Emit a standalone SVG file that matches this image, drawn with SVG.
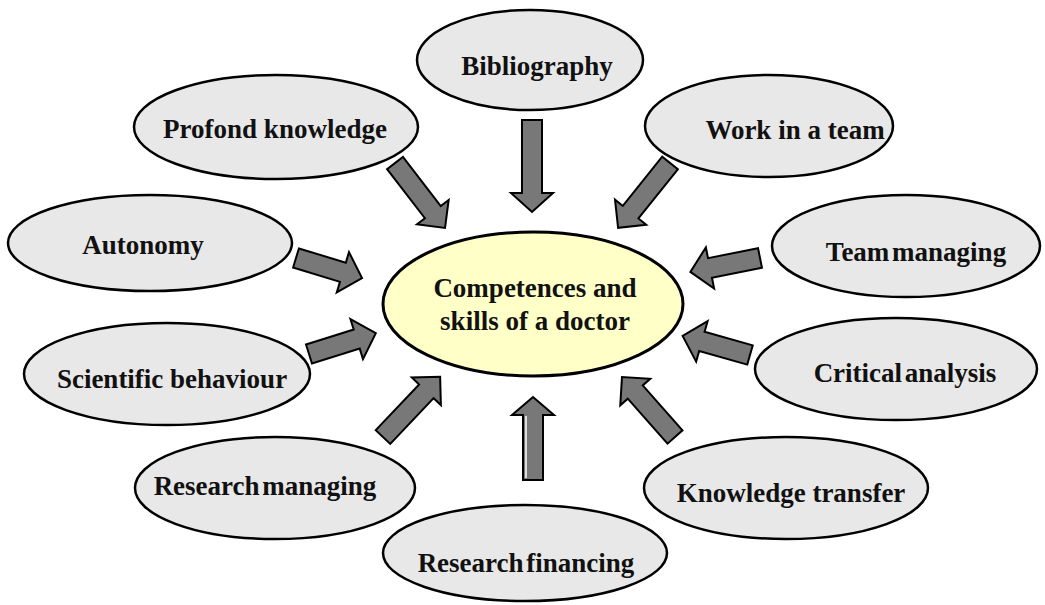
<svg xmlns="http://www.w3.org/2000/svg" width="1045" height="605" viewBox="0 0 1045 605">
<style>
.n{fill:#e8e8e8;stroke:#000;stroke-width:2.5}
.c{fill:#ffffc8;stroke:#000;stroke-width:3}
.t{font-family:"Liberation Serif","Times New Roman",serif;font-weight:bold;font-size:27px;fill:#111;text-anchor:middle}
.a{fill:#787878;stroke:#000;stroke-width:2;stroke-linejoin:miter}
</style>
<rect width="1045" height="605" fill="#fff"/>
<g id="connectors">
<path class="a" transform="translate(395,163) rotate(52.4)" d="M0,-10H62V-20L82,0L62,20V10H0Z"/>
<path class="a" transform="translate(532,120) rotate(90)" d="M0,-10H73V-21L92,0L73,21V10H0Z"/>
<path class="a" transform="translate(670,163) rotate(128.7)" d="M0,-10H63V-20L83,0L63,20V10H0Z"/>
<path class="a" transform="translate(296,258) rotate(16.9)" d="M0,-10H49V-21L69,0L49,21V10H0Z"/>
<path class="a" transform="translate(309,354) rotate(-17.4)" d="M0,-10H50V-21L70,0L50,21V10H0Z"/>
<path class="a" transform="translate(760,258) rotate(168.7)" d="M0,-10H51V-21L71,0L51,21V10H0Z"/>
<path class="a" transform="translate(750,355) rotate(195.8)" d="M0,-10H50V-21L70,0L50,21V10H0Z"/>
<path class="a" transform="translate(383,437) rotate(-46.5)" d="M0,-10H63V-20L83,0L63,20V10H0Z"/>
<path class="a" transform="translate(533,480) rotate(-90)" d="M0,-10H65V-21L83,0L65,21V10H0Z"/>
<path d="M526,416V478" stroke="#fff" stroke-width="1.5" fill="none"/>
<path class="a" transform="translate(675,437) rotate(228.5)" d="M0,-10H60V-20L80,0L60,20V10H0Z"/>
</g>
<g id="center">
<ellipse class="c" cx="533" cy="304" rx="150" ry="72"/>
<text class="t" x="535" y="297">Competences and</text>
<text class="t" x="535" y="330">skills of a doctor</text>
</g>
<g id="bibliography">
<ellipse class="n" cx="530" cy="60" rx="113" ry="50"/>
<text class="t" x="537" y="75">Bibliography</text>
</g>
<g id="profond">
<ellipse class="n" cx="276" cy="127" rx="142" ry="52"/>
<text class="t" x="275" y="138">Profond knowledge</text>
</g>
<g id="work">
<ellipse class="n" cx="769" cy="126" rx="124" ry="51"/>
<text class="t" x="795" y="139">Work in a team</text>
</g>
<g id="autonomy">
<ellipse class="n" cx="150" cy="243" rx="142" ry="48"/>
<text class="t" x="143" y="254">Autonomy</text>
</g>
<g id="team">
<ellipse class="n" cx="906" cy="246" rx="134" ry="51"/>
<text class="t" x="916" y="261" word-spacing="-4">Team managing</text>
</g>
<g id="scientific">
<ellipse class="n" cx="167" cy="374" rx="143" ry="51"/>
<text class="t" x="172" y="388">Scientific behaviour</text>
</g>
<g id="critical">
<ellipse class="n" cx="896" cy="369" rx="141" ry="51"/>
<text class="t" x="905" y="382" word-spacing="-4">Critical analysis</text>
</g>
<g id="researchmanaging">
<ellipse class="n" cx="275" cy="488" rx="140" ry="51"/>
<text class="t" x="265" y="495" word-spacing="-4">Research managing</text>
</g>
<g id="knowledge">
<ellipse class="n" cx="786" cy="488" rx="142" ry="51"/>
<text class="t" x="791" y="502">Knowledge transfer</text>
</g>
<g id="financing">
<ellipse class="n" cx="525" cy="553" rx="142" ry="48"/>
<text class="t" x="526" y="572" word-spacing="-4">Research financing</text>
</g>
</svg>
